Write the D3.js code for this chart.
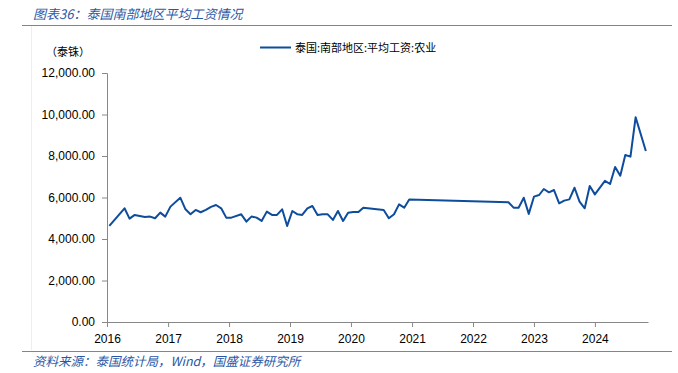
<!DOCTYPE html>
<html>
<head>
<meta charset="utf-8">
<script src="https://cdn.jsdelivr.net/npm/d3@7"></script>
<style>
  body { margin: 0; background: #fff; }
  svg { display: block; }
</style>
</head>
<body>
<div id="chart"></div>
<script>
// chart data
const dates = [
  "2016-01-15", "2016-04-15", "2016-05-15", "2016-06-15", "2016-07-15", "2016-08-15", "2016-09-15",
  "2016-10-15", "2016-11-15", "2016-12-15", "2017-01-15", "2017-03-15", "2017-04-15", "2017-05-15",
  "2017-06-15", "2017-07-15", "2017-08-15", "2017-09-15", "2017-10-15", "2017-11-15", "2017-12-15",
  "2018-01-15", "2018-03-15", "2018-04-15", "2018-05-15", "2018-06-15", "2018-07-15", "2018-08-15",
  "2018-09-15", "2018-10-15", "2018-11-15", "2018-12-15", "2019-01-15", "2019-02-15", "2019-03-15",
  "2019-04-15", "2019-05-15", "2019-06-15", "2019-07-15", "2019-08-15", "2019-09-15", "2019-10-15",
  "2019-11-15", "2019-12-15", "2020-01-15", "2020-02-15", "2020-03-15", "2020-07-15", "2020-08-15",
  "2020-09-15", "2020-10-15", "2020-11-15", "2020-12-15",
  "2022-08-01", "2022-09-01", "2022-10-01", "2022-11-01", "2022-12-01", "2023-01-01", "2023-02-01",
  "2023-03-01", "2023-04-01", "2023-05-01", "2023-06-01", "2023-07-01", "2023-08-01", "2023-09-01",
  "2023-10-01", "2023-11-01", "2023-12-01", "2024-01-01", "2024-03-01", "2024-04-01", "2024-05-01",
  "2024-06-01", "2024-07-01", "2024-08-01", "2024-09-01", "2024-11-01"
];
const wages = [
  4630, 5480, 4980, 5160, 5110, 5060, 5080,
  5000, 5270, 5080, 5560, 5990, 5430, 5190,
  5400, 5290, 5400, 5550, 5640, 5480, 5030,
  5030, 5190, 4840, 5080, 5030, 4870, 5320,
  5160, 5160, 5430, 4630, 5350, 5190, 5160,
  5480, 5590, 5160, 5190, 5190, 4920, 5350,
  4870, 5270, 5300, 5300, 5510, 5400, 5000,
  5190, 5670, 5510, 5900,
  5770, 5510, 5510, 5990, 5210, 6040, 6120,
  6410, 6250, 6360, 5720, 5850, 5910, 6470,
  5800, 5480, 6550, 6150, 6800, 6650, 7470,
  7050, 8050, 7970, 9870, 8240
];
const yearTicks = ["2016", "2017", "2018", "2019", "2020", "2021", "2022", "2023", "2024"];
const yTicks = [0, 2000, 4000, 6000, 8000, 10000, 12000];
const seriesName = "泰国:南部地区:平均工资:农业";

const width = 678;
const height = 373;
const blue = "#0e4c9c";
const titleBlue = "#2a57a5";
const ruleBlue = "#5b8bd0";
const cjk = "'Noto Sans CJK SC', 'Noto Sans', sans-serif";

const svg = d3.select("#chart")
  .append("svg")
  .attr("width", width)
  .attr("height", height);

// title + rules
svg.append("text")
  .attr("x", 33).attr("y", 19)
  .attr("font-family", cjk)
  .attr("font-size", "13px")
  .attr("font-style", "italic")
  .attr("fill", titleBlue)
  .text("图表36：泰国南部地区平均工资情况");

svg.append("line")
  .attr("x1", 22).attr("x2", 672).attr("y1", 25.5).attr("y2", 25.5)
  .attr("stroke", ruleBlue).attr("stroke-width", 1.2);

svg.append("line")
  .attr("x1", 31.5).attr("x2", 31.5).attr("y1", 26).attr("y2", 350)
  .attr("stroke", "#eeeeee").attr("stroke-width", 1);

svg.append("line")
  .attr("x1", 22).attr("x2", 672).attr("y1", 351.5).attr("y2", 351.5)
  .attr("stroke", ruleBlue).attr("stroke-width", 1.2);

svg.append("text")
  .attr("x", 33).attr("y", 366)
  .attr("font-family", cjk)
  .attr("font-size", "12.5px")
  .attr("font-style", "italic")
  .attr("fill", titleBlue)
  .text("资料来源：泰国统计局，Wind，国盛证券研究所");

// scales
const parse = d3.utcParse("%Y-%m-%d");
const data = dates.map((d, i) => ({ date: parse(d), value: wages[i] }));

const x = d3.scaleUtc()
  .domain([new Date(Date.UTC(2016, 0, 1)), new Date(Date.UTC(2024, 10, 14))])
  .range([107, 648]);

const y = d3.scaleLinear()
  .domain([0, 12000])
  .range([322, 73]);

// y axis
const yAxis = svg.append("g")
  .attr("transform", "translate(107,0)")
  .call(d3.axisLeft(y).tickValues(yTicks).tickSize(5).tickPadding(7)
    .tickFormat(d3.format(",.2f")));
yAxis.select(".domain").attr("stroke", "#888");
yAxis.selectAll(".tick line").attr("stroke", "#888");
yAxis.selectAll("text")
  .attr("font-family", "'Liberation Sans', Arial, sans-serif")
  .attr("font-size", "12px")
  .attr("fill", "#000");

// x axis
const xAxis = svg.append("g")
  .attr("transform", "translate(0,322)")
  .call(d3.axisBottom(x)
    .tickValues(yearTicks.map(t => new Date(Date.UTC(+t, 0, 1))))
    .tickFormat(d3.utcFormat("%Y"))
    .tickSize(5).tickSizeOuter(0).tickPadding(7));
xAxis.select(".domain").attr("stroke", "#888");
xAxis.selectAll(".tick line").attr("stroke", "#888");
xAxis.selectAll("text")
  .attr("font-family", "'Liberation Sans', Arial, sans-serif")
  .attr("font-size", "12px")
  .attr("fill", "#000");

// unit label
svg.append("text")
  .attr("x", 46).attr("y", 56)
  .attr("font-family", cjk)
  .attr("font-size", "11px")
  .attr("fill", "#000")
  .text("（泰铢）");

// legend
svg.append("line")
  .attr("x1", 260).attr("x2", 291).attr("y1", 47.5).attr("y2", 47.5)
  .attr("stroke", blue).attr("stroke-width", 2);
svg.append("text")
  .attr("x", 295).attr("y", 51.5)
  .attr("font-family", cjk)
  .attr("font-size", "11px")
  .attr("fill", "#000")
  .text(seriesName);

// series line
const line = d3.line()
  .x(d => x(d.date))
  .y(d => y(d.value));

svg.append("path")
  .datum(data)
  .attr("fill", "none")
  .attr("stroke", blue)
  .attr("stroke-width", 2)
  .attr("stroke-linejoin", "round")
  .attr("d", line);
</script>
</body>
</html>
